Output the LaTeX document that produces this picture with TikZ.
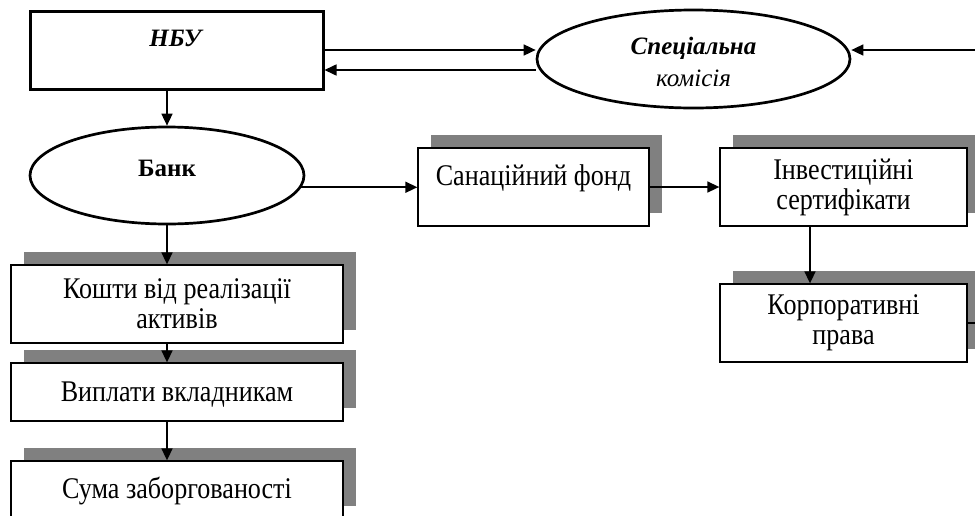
\documentclass[tikz,border=0pt]{standalone}
\usepackage{fontspec}
\setmainfont{Liberation Serif}
\newfontfamily\boxfont[FakeStretch=0.87]{Liberation Serif}
\usetikzlibrary{shapes.geometric,shadows,arrows.meta}
\begin{document}
\begin{tikzpicture}[x=1pt,y=-1pt,
  txt/.style={font=\fontsize{25}{32}\selectfont},
  btxt/.style={font=\boxfont\fontsize{30}{30}\selectfont},
  box/.style={btxt,draw,line width=1.3pt,fill=white,align=center,inner sep=0pt,
    drop shadow={shadow xshift=13pt,shadow yshift=13pt,opacity=1,fill=black!50}},
  oval/.style={txt,draw,ellipse,line width=2.7pt,fill=white,inner sep=0pt,align=center},
  arr/.style={line width=1.6pt,-{Triangle[length=12pt,width=11pt]}},
  ln/.style={line width=1.6pt}]
\useasboundingbox (0,0) rectangle (975,515);
\clip (0,0) rectangle (975,515);
% nodes
\node[txt,draw,line width=3pt,minimum width=293pt,minimum height=78pt,inner sep=0pt,
      text height=12pt,text depth=19pt] (nbu) at (176.5,50) {\textbf{\textit{НБУ}}};
\node[oval,minimum width=313pt,minimum height=98pt] (spec) at (693.5,59)
      {\rule{0pt}{24pt}\textbf{\textit{Спеціальна}}\\\textit{комісія}};
\node[oval,minimum width=274pt,minimum height=97pt,text height=12pt,text depth=11pt] (bank) at (167,175.5) {\textbf{Банк}};
\node[box,minimum width=231pt,minimum height=78pt,text height=12pt,text depth=16pt] (sanf) at (533.5,187) {Санаційний фонд};
\node[box,minimum width=247pt,minimum height=78pt] (inv) at (843.5,187) {Інвестиційні\\сертифікати};
\node[box,minimum width=247pt,minimum height=78pt] (korp) at (843.5,323) {Корпоративні\\права};
\node[box,minimum width=332pt,minimum height=78pt] (kosh) at (177,304) {Кошти від реалізації\\активів};
\node[box,minimum width=332pt,minimum height=58pt,text height=20pt,text depth=2pt] (vypl) at (177,392) {Виплати вкладникам};
\node[box,minimum width=332pt,minimum height=58pt,text height=20pt,text depth=4pt] (suma) at (177,490) {Сума заборгованості};
\coordinate (rin) at (990,50);
\coordinate (rout) at (990,323);
% connectors
\draw[arr] (nbu.east) -- (nbu.east -| spec.west);
\draw[arr] ([yshift=-20pt]nbu.east -| spec.west) -- ([yshift=-20pt]nbu.east);
\draw[arr] (rin) -- (rin -| spec.east);
\draw[arr] (bank.north |- nbu.south) -- (bank.north);
\draw[arr] (bank.-5) -- (bank.-5 -| sanf.west);
\draw[arr] (sanf.east) -- (inv.west);
\draw[arr] ([xshift=-33.5pt]inv.south) -- ([xshift=-33.5pt]korp.north);
\draw[ln] (korp.east) -- (rout);
\draw[arr] (bank.south) -- (bank.south |- kosh.north);
\draw[arr] (bank.south |- kosh.south) -- (bank.south |- vypl.north);
\draw[arr] (bank.south |- vypl.south) -- (bank.south |- suma.north);
\end{tikzpicture}
\end{document}
